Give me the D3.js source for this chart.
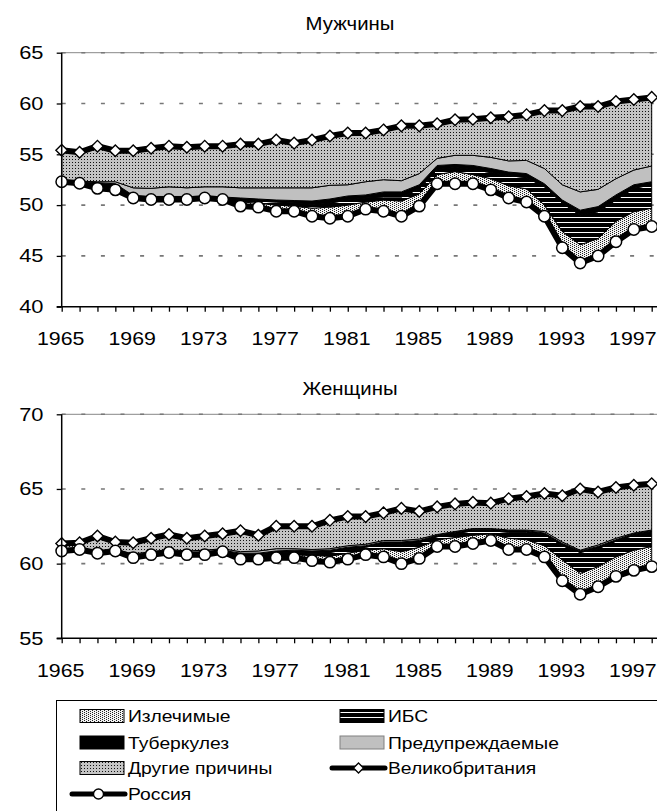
<!DOCTYPE html>
<meta charset="utf-8">
<script src="https://d3js.org/d3.v7.min.js"></script>
<style>
  body {
    margin: 0;
    background: #fff;
    font-family: 'Liberation Sans', Arial, sans-serif;
  }
  text {
    font-family: 'Liberation Sans', Arial, sans-serif;
    font-weight: normal;
  }
</style>
<body>
<svg width="657" height="811"></svg>
</body>
<script>

// ---- data ----
var years = [1965,1966,1967,1968,1969,1970,1971,1972,1973,1974,
             1975,1976,1977,1978,1979,1980,1981,1982,1983,1984,
             1985,1986,1987,1988,1989,1990,1991,1992,1993,1994,
             1995,1996,1997,1998];
var yearLabels = [1965,1969,1973,1977,1981,1985,1989,1993,1997];
var menTicks = [40,45,50,55,60,65];
var womenTicks = [55,60,65,70];

// men
var menRussia = [52.3,52.15,51.65,51.5,50.7,50.55,50.55,50.55,50.7,50.55,
                 49.9,49.8,49.4,49.4,48.9,48.7,48.9,49.6,49.4,48.9,
                 49.9,52.1,52.1,52.1,51.5,50.7,50.3,48.9,45.8,44.3,
                 45.0,46.4,47.6,47.9];
var menUK = [55.4,55.2,55.8,55.35,55.35,55.6,55.8,55.7,55.8,55.8,
             56.0,56.0,56.4,56.1,56.4,56.8,57.1,57.1,57.4,57.8,
             57.8,58.0,58.4,58.45,58.6,58.7,58.9,59.3,59.3,59.7,
             59.7,60.2,60.4,60.6];
var menCurable = [0,0,0,0,0,0,0,0,0,0.05,
                  0.4,0.4,0.6,0.5,0.8,1.1,1.1,0.7,1.1,1.5,
                  1.2,0.9,1.2,0.9,1.1,1.2,1.3,1.1,1.6,1.8,
                  1.7,2.0,1.75,1.8];
var menIHD = [0,0,0,0,0.05,0.05,0.05,0.05,0,0.05,
              0.2,0.2,0.3,0.3,0.3,0.4,0.5,0.4,0.3,0.4,
              0.5,0.5,0.4,0.5,0.6,1.0,1.1,1.8,2.8,2.9,
              2.65,2.1,2.3,2.3];
var menTB = [0.1,0.15,0.55,0.6,0.2,0.25,0.25,0.25,0.15,0.15,
             0.2,0.2,0.2,0.25,0.4,0.4,0.4,0.3,0.5,0.5,
             0.4,0.4,0.3,0.4,0.4,0.35,0.4,0.3,0.3,0.5,
             0.5,0.5,0.35,0.3];
var menPrev = [0,0.05,0.1,0.2,0.75,0.8,0.95,0.85,0.95,1.0,
               1.0,1.1,1.2,1.25,1.3,1.35,1.1,1.3,1.2,1.1,
               1.1,0.7,0.9,1.0,1.1,1.1,1.3,1.5,1.5,1.8,
               1.7,1.6,1.45,1.55];
var menOther = [3.0,2.85,3.5,3.05,3.65,3.95,4.0,4.0,4.0,4.0,
                4.3,4.3,4.7,4.4,4.7,4.85,5.1,4.8,4.9,5.4,
                4.7,3.4,3.5,3.55,3.9,4.35,4.5,5.7,7.3,8.4,
                8.15,7.6,6.95,6.75];

// women
var womenRussia = [60.85,60.95,60.7,60.85,60.4,60.6,60.75,60.6,60.6,60.8,
                   60.3,60.3,60.4,60.4,60.2,60.1,60.3,60.6,60.45,60.0,
                   60.35,61.15,61.15,61.35,61.55,60.95,60.95,60.45,58.85,57.95,
                   58.45,59.15,59.55,59.8];
var womenUK = [61.35,61.4,61.85,61.45,61.4,61.7,61.95,61.7,61.85,62.0,
               62.2,61.9,62.5,62.5,62.5,62.9,63.15,63.15,63.4,63.7,
               63.5,63.8,64.0,64.1,64.05,64.35,64.5,64.7,64.55,65.0,
               64.8,65.1,65.25,65.35];
var womenCurable = [0,0,0,0,0,0,0,0,0,0,
                    0.2,0.2,0.2,0.2,0.35,0.4,0.4,0.3,0.55,0.8,
                    0.75,0.45,0.6,0.55,0.45,0.75,0.65,0.75,1.4,1.4,
                    1.35,1.3,1.35,1.35];
var womenIHD = [0,0,0,0,0.05,0,0,0.05,0.05,0,
                0.1,0.1,0.1,0.15,0.15,0.25,0.25,0.2,0.35,0.5,
                0.3,0.2,0.25,0.3,0.2,0.4,0.5,0.75,0.95,1.4,
                1.2,1.05,1.0,0.95];
var womenTB = [0.05,0.05,0.05,0.05,0.1,0.1,0.1,0.1,0.15,0.1,
               0.1,0.1,0.15,0.15,0.15,0.15,0.15,0.1,0.1,0.15,
               0.15,0.1,0.1,0.1,0.1,0.1,0.1,0.1,0.15,0.1,
               0.15,0.1,0.1,0.1];
var womenPrev = [0.05,0.05,0.1,0.05,0.1,0.1,0.1,0.1,0.1,0.1,
                 0.1,0.15,0.15,0.1,0.1,0.1,0.1,0.1,0.1,0.1,
                 0.1,0.05,0.05,0.05,0.05,0.05,0.05,0.1,0.1,0.05,
                 0.1,0.1,0.05,0.05];
var womenOther = [0.4,0.35,1.0,0.5,0.75,0.9,1.0,0.85,0.95,1.0,
                  1.4,1.05,1.5,1.5,1.55,1.9,1.95,1.85,1.85,2.15,
                  1.85,1.85,1.85,1.75,1.7,2.1,2.25,2.55,3.1,4.1,
                  3.55,3.4,3.2,3.1];

var layerKeys = ["cur", "ihd", "tb", "prev", "other"];
var layerNames = {cur: "Излечимые", ihd: "ИБС", tb: "Туберкулез",
                  prev: "Предупреждаемые", other: "Другие причины"};

// ---- svg & patterns ----
var svg = d3.select("svg");
var defs = svg.append("defs");

var p = defs.append("pattern").attr("id", "pOther")
    .attr("patternUnits", "userSpaceOnUse").attr("width", 3).attr("height", 3);
p.append("rect").attr("width", 3).attr("height", 3).attr("fill", "#c4c4c4");
p.append("rect").attr("width", 1).attr("height", 1).attr("fill", "#111");

p = defs.append("pattern").attr("id", "pCur")
    .attr("patternUnits", "userSpaceOnUse").attr("width", 4).attr("height", 2);
p.append("rect").attr("width", 4).attr("height", 2).attr("fill", "#f2f2f2");
p.append("rect").attr("width", 1).attr("height", 1).attr("fill", "#222");
p.append("rect").attr("x", 2).attr("y", 1).attr("width", 1).attr("height", 1).attr("fill", "#222");

p = defs.append("pattern").attr("id", "pIhd")
    .attr("patternUnits", "userSpaceOnUse").attr("width", 6).attr("height", 5);
p.append("rect").attr("width", 6).attr("height", 5).attr("fill", "#000");
p.append("rect").attr("y", 2).attr("width", 6).attr("height", 1).attr("fill", "#fff");

var fills = {cur: "url(#pCur)", ihd: "url(#pIhd)", tb: "#000",
             prev: "#c0c0c0", other: "url(#pOther)"};

// stretched text helper (the source fonts are wide)
function label(parent, x, y, s, anchor, size, sx) {
  return parent.append("text")
      .attr("transform", "translate(" + x + "," + y + ") scale(" + sx + ",1)")
      .attr("text-anchor", anchor)
      .attr("font-size", size)
      .attr("fill", "#000")
      .text(s);
}

var x = d3.scalePoint().domain(years).range([61.7, 651.7]);
var plotLeft = 61.7, plotRight = 660;

var diamond = "M0,-5.8L5.8,0L0,5.8L-5.8,0Z";

function drawPanel(cfg) {
  var y = d3.scaleLinear().domain(cfg.domain).range([cfg.bottom, cfg.top]);
  var g = svg.append("g");

  label(g, 350, cfg.titleY, cfg.title, "middle", 18.5, 1.1);

  // grid lines
  g.append("line")
      .attr("x1", plotLeft).attr("x2", plotRight)
      .attr("y1", y(cfg.domain[1])).attr("y2", y(cfg.domain[1]))
      .attr("stroke", "#888").attr("stroke-width", 1);
  g.selectAll(".grid")
    .data(cfg.ticks.slice(1))
    .enter().append("line")
      .attr("x1", plotLeft).attr("x2", plotRight)
      .attr("y1", function(d) { return y(d); })
      .attr("y2", function(d) { return y(d); })
      .attr("stroke", "#777")
      .attr("stroke-width", 1.6)
      .attr("stroke-dasharray", "4,15.6");

  // stacked areas on top of the Russia line
  var rows = years.map(function(yr, i) {
    return {year: yr, base: cfg.russia[i], cur: cfg.cur[i], ihd: cfg.ihd[i],
            tb: cfg.tb[i], prev: cfg.prev[i], other: cfg.other[i]};
  });
  var series = d3.stack().keys(["base"].concat(layerKeys))(rows).slice(1);

  var area = d3.area()
      .x(function(d) { return x(d.data.year); })
      .y0(function(d) { return y(d[0]); })
      .y1(function(d) { return y(d[1]); });

  g.selectAll(".layer")
    .data(series)
    .enter().append("path")
      .attr("d", area)
      .attr("fill", function(d) { return fills[d.key]; })
      .attr("stroke", "#000")
      .attr("stroke-width", 1);

  // the two life expectancy lines
  var line = d3.line()
      .x(function(d, i) { return x(years[i]); })
      .y(function(d) { return y(d); });

  [cfg.uk, cfg.russia].forEach(function(vals) {
    g.append("path")
        .attr("d", line(vals))
        .attr("fill", "none")
        .attr("stroke", "#000")
        .attr("stroke-width", 6)
        .attr("stroke-linejoin", "round");
  });

  g.selectAll(".uk")
    .data(cfg.uk)
    .enter().append("path")
      .attr("d", diamond)
      .attr("transform", function(d, i) { return "translate(" + x(years[i]) + "," + y(d) + ")"; })
      .attr("fill", "#fff")
      .attr("stroke", "#000")
      .attr("stroke-width", 1.4);

  g.selectAll(".ru")
    .data(cfg.russia)
    .enter().append("circle")
      .attr("cx", function(d, i) { return x(years[i]); })
      .attr("cy", function(d) { return y(d); })
      .attr("r", 5.7)
      .attr("fill", "#fff")
      .attr("stroke", "#000")
      .attr("stroke-width", 1.5);

  // axes
  var yAxis = g.append("g")
      .attr("transform", "translate(" + plotLeft + ",0)")
      .call(d3.axisLeft(y).tickValues(cfg.ticks).tickSize(5).tickSizeOuter(0).tickFormat(""));
  yAxis.select(".domain").remove();
  yAxis.selectAll("line").attr("stroke-width", 1.3);
  cfg.ticks.forEach(function(t) {
    label(g, 43.5, y(t) + 6.3, t, "end", 17.5, 1.25);
  });

  var xAxis = g.append("g")
      .attr("transform", "translate(0," + cfg.bottom + ")")
      .call(d3.axisBottom(x).tickValues(years).tickSize(5).tickSizeOuter(0).tickFormat(""));
  xAxis.select(".domain").remove();
  xAxis.selectAll("line").attr("stroke-width", 1.3);
  yearLabels.forEach(function(yr) {
    label(g, x(yr) - 1, cfg.bottom + 38.5, yr, "middle", 17.5, 1.22);
  });

  g.append("line")
      .attr("x1", plotLeft).attr("x2", plotLeft)
      .attr("y1", cfg.top).attr("y2", cfg.bottom)
      .attr("stroke", "#000").attr("stroke-width", 1.5);
  g.append("line")
      .attr("x1", plotLeft - 5).attr("x2", plotRight)
      .attr("y1", cfg.bottom).attr("y2", cfg.bottom)
      .attr("stroke", "#000").attr("stroke-width", 1.5);
}

drawPanel({title: "Мужчины", titleY: 30, domain: [40, 65], top: 52.7, bottom: 306.7,
           ticks: menTicks, russia: menRussia, uk: menUK, cur: menCurable,
           ihd: menIHD, tb: menTB, prev: menPrev, other: menOther});

drawPanel({title: "Женщины", titleY: 395, domain: [55, 70], top: 414.3, bottom: 638.3,
           ticks: womenTicks, russia: womenRussia, uk: womenUK, cur: womenCurable,
           ihd: womenIHD, tb: womenTB, prev: womenPrev, other: womenOther});

// ---- legend ----
var legend = svg.append("g");
legend.append("rect")
    .attr("x", 56.5).attr("y", 700.5)
    .attr("width", 640).attr("height", 140)
    .attr("fill", "#fff").attr("stroke", "#000").attr("stroke-width", 1);

var colX = [80, 340];
var rowY = [716, 742.5, 768, 794];
var swatchItems = [
  {key: "cur", col: 0, row: 0},
  {key: "ihd", col: 1, row: 0},
  {key: "tb", col: 0, row: 1},
  {key: "prev", col: 1, row: 1},
  {key: "other", col: 0, row: 2}
];

swatchItems.forEach(function(it) {
  legend.append("rect")
      .attr("x", colX[it.col]).attr("y", rowY[it.row] - 6.5)
      .attr("width", 44).attr("height", 13)
      .attr("fill", fills[it.key])
      .attr("stroke", it.key == "prev" ? "#808080" : "#000")
      .attr("stroke-width", 1);
  label(legend, colX[it.col] + 48, rowY[it.row] + 6, layerNames[it.key], "start", 16.5, 1.17);
});

// line entries
var lineItems = [
  {name: "Великобритания", col: 1, row: 2, mark: "diamond"},
  {name: "Россия", col: 0, row: 3, mark: "circle"}
];
lineItems.forEach(function(it) {
  var x0 = colX[it.col] - 8, x1 = colX[it.col] + 45, cy = rowY[it.row];
  legend.append("line")
      .attr("x1", x0).attr("x2", x1).attr("y1", cy).attr("y2", cy)
      .attr("stroke", "#000").attr("stroke-width", 5).attr("stroke-linecap", "round");
  if (it.mark == "diamond") {
    legend.append("path")
        .attr("d", "M0,-5L5,0L0,5L-5,0Z")
        .attr("transform", "translate(" + ((x0 + x1) / 2) + "," + cy + ")")
        .attr("fill", "#fff").attr("stroke", "#000").attr("stroke-width", 1.3);
  } else {
    legend.append("circle")
        .attr("cx", (x0 + x1) / 2).attr("cy", cy).attr("r", 5)
        .attr("fill", "#fff").attr("stroke", "#000").attr("stroke-width", 1.4);
  }
  label(legend, colX[it.col] + 48, cy + 6, it.name, "start", 16.5, 1.17);
});

</script>
